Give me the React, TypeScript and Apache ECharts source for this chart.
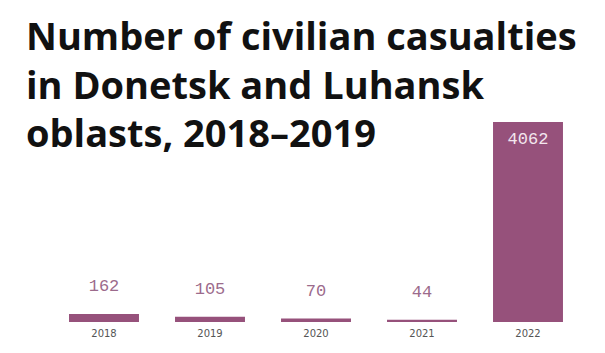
import React, { useEffect, useRef } from "react";
import * as echarts from "echarts";

const years = ["2018", "2019", "2020", "2021", "2022"];
const casualties = [162, 105, 70, 44, 4062];
const titleLines = [
  "Number of civilian casualties",
  "in Donetsk and Luhansk",
  "oblasts, 2018–2019",
];

const BAR = "#96517b";

export default function App() {
  const ref = useRef<HTMLDivElement>(null);
  useEffect(() => {
    const chart = echarts.init(ref.current!, null, { renderer: "svg" });
    const maxVal = Math.max(...casualties);
    chart.setOption({
      animation: false,
      backgroundColor: "#ffffff",
      title: {
        text: titleLines.join("\n"),
        left: 21,
        top: 6,
        textStyle: {
          fontFamily: "Open Sans",
          fontWeight: "bold",
          fontSize: 38,
          lineHeight: 48.5,
          color: "#111111",
        },
      },
      grid: { left: 51, right: 24, top: 122, bottom: 31 },
      xAxis: {
        type: "category",
        data: years,
        axisLine: { show: false },
        axisTick: { show: false },
        axisLabel: {
          margin: 6,
          fontSize: 10,
          color: "#555555",
          fontFamily: "DejaVu Sans",
        },
      },
      yAxis: {
        type: "value",
        min: 0,
        max: maxVal,
        show: false,
        splitLine: { show: false },
      },
      series: [
        {
          type: "bar",
          barWidth: "66%",
          data: casualties.map((v) => ({
            value: v,
            label:
              v === maxVal
                ? {
                    show: true,
                    position: "insideTop",
                    distance: 9,
                    color: "#f3e6ee",
                  }
                : { show: true, position: "top", distance: 19 },
          })),
          itemStyle: { color: BAR },
          label: {
            show: true,
            fontFamily: "Liberation Mono",
            fontSize: 17,
            color: "#9c6b8c",
          },
        },
      ],
    });
    return () => chart.dispose();
  }, []);
  return <div ref={ref} style={{ width: 605, height: 353, margin: -8 }} />;
}
